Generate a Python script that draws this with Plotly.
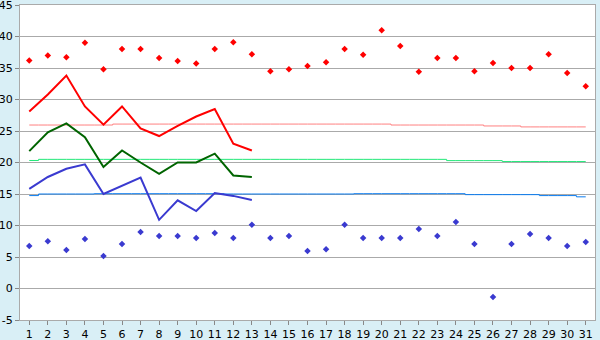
import plotly.graph_objects as go

days = list(range(1, 32))
max_temp = [36.2, 37.0, 36.7, 39.0, 34.8, 38.0, 38.0, 36.6, 36.1, 35.7,
            38.0, 39.1, 37.2, 34.5, 34.8, 35.3, 35.9, 38.0, 37.1, 41.0,
            38.5, 34.4, 36.6, 36.6, 34.5, 35.8, 35.0, 35.0, 37.2, 34.2, 32.1]
min_temp = [6.75, 7.5, 6.1, 7.85, 5.15, 7.05, 8.95, 8.35, 8.35, 8.0,
            8.8, 8.0, 10.1, 8.0, 8.35, 5.95, 6.25, 10.1, 8.0, 8.0,
            8.0, 9.45, 8.35, 10.55, 7.05, -1.35, 7.05, 8.65, 8.0, 6.75, 7.4]
line_days = list(range(1, 14))
hi_line = [28.1, 30.8, 33.8, 28.9, 26.0, 28.9, 25.4, 24.2, 25.8, 27.3, 28.5, 23.0, 21.9]
mean_line = [21.8, 24.8, 26.2, 24.0, 19.3, 21.9, 20.0, 18.2, 20.0, 20.0, 21.4, 17.95, 17.7]
lo_line = [15.8, 17.7, 19.0, 19.7, 15.0, 16.3, 17.6, 10.9, 14.0, 12.3, 15.15, 14.7, 14.05]
norm_hi = [25.95]*5 + [26.1]*15 + [25.95]*5 + [25.8]*2 + [25.65]*4
norm_mean = [20.32] + [20.5]*22 + [20.3]*3 + [20.15]*5
norm_lo = [14.75] + [15.0]*3 + [15.05]*7 + [15.0]*7 + [15.05]*6 + [14.9]*4 + [14.75]*2 + [14.55]
y_ticks = [-5, 0, 5, 10, 15, 20, 25, 30, 35, 40, 45]
y_labels = ["-5", "0", "5", "10", "15", "20", "25", "30", "35", "40", "45"]

fig = go.Figure()
fig.add_trace(go.Scatter(x=days, y=norm_hi, mode="lines", line=dict(color="#ff8080", width=1, shape="hvh")))
fig.add_trace(go.Scatter(x=days, y=norm_mean, mode="lines", line=dict(color="#20e878", width=1, shape="hvh")))
fig.add_trace(go.Scatter(x=days, y=norm_lo, mode="lines", line=dict(color="#0a7cf0", width=1, shape="hvh")))
fig.add_trace(go.Scatter(x=line_days, y=hi_line, mode="lines", line=dict(color="#ff0000", width=2)))
fig.add_trace(go.Scatter(x=line_days, y=mean_line, mode="lines", line=dict(color="#006400", width=2)))
fig.add_trace(go.Scatter(x=line_days, y=lo_line, mode="lines", line=dict(color="#3a3ad0", width=2)))
fig.add_trace(go.Scatter(x=days, y=max_temp, mode="markers", marker=dict(symbol="diamond", size=5, color="#ff0000")))
fig.add_trace(go.Scatter(x=days, y=min_temp, mode="markers", marker=dict(symbol="diamond", size=5, color="#3a3ad0")))

fig.update_layout(
    width=600, height=340,
    margin=dict(l=20, r=5, t=5, b=20, autoexpand=False),
    paper_bgcolor="#d9eff6", plot_bgcolor="#ffffff",
    showlegend=False,
    font=dict(family="DejaVu Sans", size=11, color="#000000"),
)
fig.update_xaxes(range=[0.5, 31.5], tickvals=days, showgrid=False, zeroline=False,
                 ticks="outside", ticklen=4, tickcolor="#888888", automargin=False,
                 ticklabeloverflow="allow",
                 showline=True, linecolor="#aaaaaa", linewidth=1, mirror=True)
fig.update_yaxes(range=[-5, 45], tickvals=y_ticks, ticktext=y_labels,
                 showgrid=True, gridcolor="#aaaaaa", gridwidth=1, zeroline=False,
                 ticks="outside", ticklen=4, tickcolor="#888888", automargin=False,
                 ticklabeloverflow="allow",
                 showline=True, linecolor="#aaaaaa", linewidth=1, mirror=True)

fig.write_html("out.html")
